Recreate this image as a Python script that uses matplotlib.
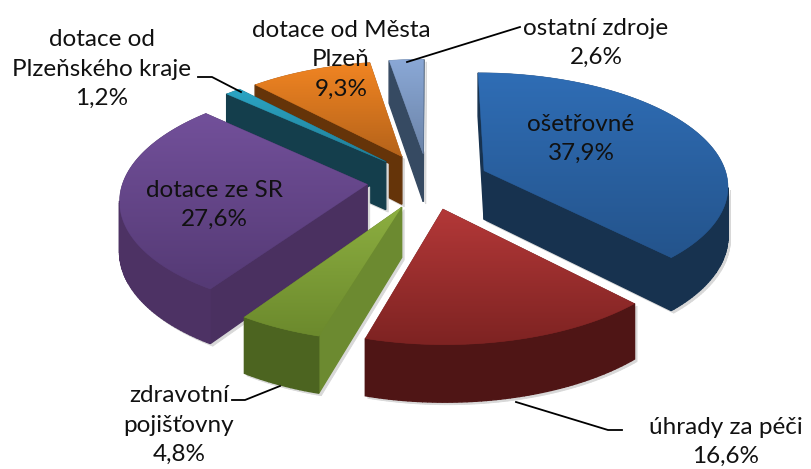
import numpy as np
from matplotlib import pyplot as plt
from matplotlib.patches import Polygon
from matplotlib.colors import LinearSegmentedColormap

values = [37.9, 16.6, 4.8, 27.6, 1.2, 9.3, 2.6]
top_light = ['#2f6db5', '#b33838', '#8cae40', '#72509a', '#2ba5c4', '#f08422', '#8aa8d6']
top_dark = ['#24548c', '#7e2322', '#6c8a2d', '#553a75', '#217d96', '#b5631a', '#6c84a8']
wall_radial = ['#17324f', '#4f1515', '#6c8a30', '#4a3060', '#143e4c', '#653409', '#364a62']
wall_outer = ['#17324f', '#4f1515', '#4c6420', '#4d3264', '#143e4c', '#653409', '#364a62']
draw_order = [6, 5, 4, 0, 3, 2, 1]

labels = ['ošetřovné\n37,9%', 'úhrady za péči\n16,6%', 'zdravotní\npojišťovny\n4,8%',
          'dotace ze SR\n27,6%', 'dotace od\nPlzeňského kraje\n1,2%',
          'dotace od Města\nPlzeň\n9,3%', 'ostatní zdroje\n2,6%']
label_pos = [(581, 139), (726, 442), (179, 425), (214, 205), (102, 69), (341, 60), (596, 43)]
leaders = [[(407, 62), (520, 27)],
           [(516, 402), (608, 430), (622, 430)],
           [(280, 386), (245, 400), (232, 400)],
           [(241, 92), (212, 77), (198, 77)]]

cx, cy = 428, 181
A, B, k = 244, 112, 0.12
depth = 49
explode = 0.25


def project(u, v, z=0):
    s = 1 + k * v
    return cx + A * u / s, cy - B * v / s + z * depth / s


def gradient_face(ax, pts, c1, c2):
    pts = np.array(pts)
    poly = Polygon(pts, closed=True, fc=c2, ec=c2, lw=0.4, zorder=ax.zcount)
    ax.add_patch(poly)
    cmap = LinearSegmentedColormap.from_list('g', [c1, c2])
    y0, y1 = pts[:, 1].min(), pts[:, 1].max()
    x0, x1 = pts[:, 0].min(), pts[:, 0].max()
    im = ax.imshow(np.linspace(0, 1, 64).reshape(-1, 1), cmap=cmap, aspect='auto',
                   extent=(x0, x1, y1, y0), zorder=ax.zcount, interpolation='bilinear')
    im.set_clip_path(poly)
    ax.zcount += 1


def area(pts):
    x, y = np.array(pts).T
    return 0.5 * np.sum(x * np.roll(y, -1) - np.roll(x, -1) * y)


def flat_face(ax, pts, color):
    ax.add_patch(Polygon(pts, closed=True, fc=color, ec=color, lw=1.0, zorder=ax.zcount))
    ax.zcount += 1


def shadow_face(ax, pts):
    ax.add_patch(Polygon(np.array(pts) + (2.5, 2.5), fc='#d8d8d8', ec='#d8d8d8', lw=0.6, zorder=ax.zcount))


fig = plt.figure(figsize=(8.11, 4.69), dpi=100)
ax = fig.add_axes([0, 0, 1, 1])
ax.set_xlim(0, 811)
ax.set_ylim(469, 0)
ax.axis('off')
ax.zcount = 1

edges = np.cumsum([0] + values) / sum(values) * 2 * np.pi

for i in draw_order:
    t0, t1 = edges[i], edges[i + 1]
    mid = (t0 + t1) / 2
    ou, ov = explode * np.sin(mid), explode * np.cos(mid)
    ts = np.linspace(t0, t1, max(3, int((t1 - t0) * 60)))
    arc_u = ou + np.sin(ts)
    arc_v = ov + np.cos(ts)
    top = [project(ou, ov)] + [project(u, v) for u, v in zip(arc_u, arc_v)]
    low = [project(ou, ov, 1)] + [project(u, v, 1) for u, v in zip(arc_u, arc_v)]

    # walls that face the viewer, each quad walks its top edge against the top face
    walls = []
    w0 = [top[1], top[0], low[0], low[1]]
    w1 = [top[0], top[-1], low[-1], low[0]]
    for w in (w0, w1):
        if area(w) > 0:
            walls.append((w, wall_radial[i]))
    for j in range(1, len(top) - 1):
        quad = [top[j + 1], top[j], low[j], low[j + 1]]
        if area(quad) > 0:
            walls.append((quad, wall_outer[i]))

    for w, _ in walls:
        shadow_face(ax, w)
    ax.zcount += 1
    for w, c in walls:
        flat_face(ax, w, c)
    gradient_face(ax, top, top_light[i], top_dark[i])

for pts in leaders:
    xs, ys = zip(*pts)
    ax.plot(xs, ys, color='black', lw=1.3, zorder=ax.zcount + 1)

for text, (x, y) in zip(labels, label_pos):
    ax.text(x, y, text, ha='center', va='center', family='Lato', fontsize=17.5,
            color='#111111', linespacing=1.5, zorder=ax.zcount + 2)

ax.set_xlim(0, 811)
ax.set_ylim(469, 0)
fig.savefig('out.png', dpi=100)
